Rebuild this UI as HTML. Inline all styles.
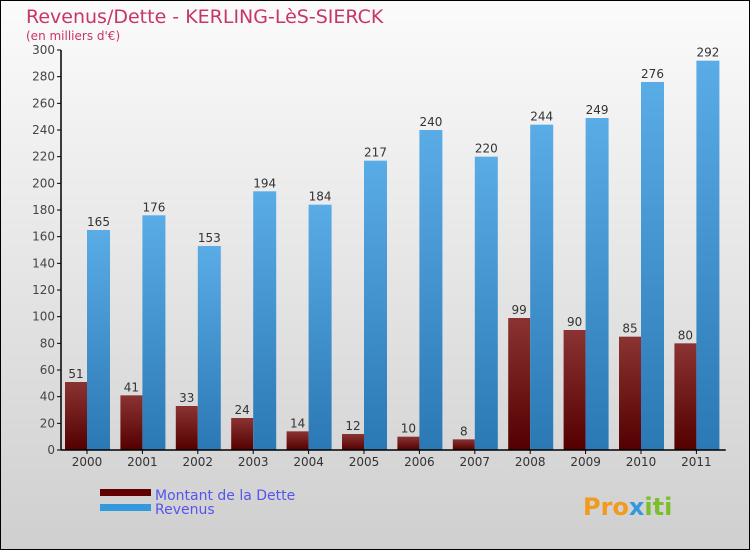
<!DOCTYPE html>
<html><head><meta charset="utf-8"><style>
body{margin:0;width:750px;height:550px;overflow:hidden;font-family:"DejaVu Sans","Liberation Sans",sans-serif}
</style></head><body>
<svg id="chart" width="750" height="550" xmlns="http://www.w3.org/2000/svg">
<defs>
<linearGradient id="bg" x1="0" y1="0" x2="0" y2="1"><stop offset="0" stop-color="#fbfbfb"/><stop offset="1" stop-color="#cfcfcf"/></linearGradient>
<linearGradient id="gd" x1="0" y1="0" x2="0" y2="1"><stop offset="0" stop-color="#8b3333"/><stop offset="1" stop-color="#540000"/></linearGradient>
<linearGradient id="gr" x1="0" y1="0" x2="0" y2="1"><stop offset="0" stop-color="#5aace6"/><stop offset="1" stop-color="#2a78b4"/></linearGradient>
</defs>
<rect x="0.5" y="0.5" width="749" height="549" fill="url(#bg)" stroke="#000"/>
<text x="26" y="23" font-size="19" fill="#c8356a">Revenus/Dette - KERLING-LèS-SIERCK</text>
<text x="26" y="40" font-size="12" fill="#c8356a">(en milliers d'€)</text>
<g id="plot"></g>
<rect x="100" y="489" width="51" height="7" fill="#600000"/>
<text x="155" y="500" font-size="14" fill="#5555ee">Montant de la Dette</text>
<rect x="100" y="504" width="51" height="7" fill="#3399dd"/>
<text x="155" y="514" font-size="14" fill="#5555ee">Revenus</text>
<text x="583" y="515" font-size="24" font-weight="bold" fill="#f39a1e">Pro<tspan fill="#3399dd">x</tspan><tspan fill="#7bbf2a">iti</tspan></text>
</svg>
<script>
const years=["2000","2001","2002","2003","2004","2005","2006","2007","2008","2009","2010","2011"];
const dette=[51,41,33,24,14,12,10,8,99,90,85,80];
const revenus=[165,176,153,194,184,217,240,220,244,249,276,292];
const yTicks=[0,20,40,60,80,100,120,140,160,180,200,220,240,260,280,300];
const NS="http://www.w3.org/2000/svg";
const g=document.getElementById('plot');
const x0=61,step=55.4,yBase=450,yTop=50,yMax=300;
const y=v=>yBase-(v/yMax)*(yBase-yTop);
const cx=i=>x0+26+i*step;
function mk(t,a){const e=document.createElementNS(NS,t);for(const k in a)e.setAttribute(k,a[k]);g.appendChild(e);return e;}
yTicks.forEach(v=>{
 const l=mk('line',{x1:57,x2:x0,y1:y(v),y2:y(v),stroke:'#000'});
 
 
 const t=mk('text',{x:55,y:y(v)+4,'text-anchor':'end','font-size':12,fill:'#444'});t.textContent=v;
 
 
});
years.forEach((yr,i)=>{
 const c=cx(i);
 const b1=mk('rect',{x:c-22,y:y(dette[i]),width:22,height:yBase-y(dette[i]),fill:'url(#gd)'});
 
 
 const b2=mk('rect',{x:c,y:y(revenus[i]),width:23,height:yBase-y(revenus[i]),fill:'url(#gr)'});
 
 
 const t1=mk('text',{x:c-11,y:y(dette[i])-4,'text-anchor':'middle','font-size':12,fill:'#333'});t1.textContent=dette[i];
 
 
 const t2=mk('text',{x:c+11.5,y:y(revenus[i])-4,'text-anchor':'middle','font-size':12,fill:'#333'});t2.textContent=revenus[i];
 
 
 const tk=mk('line',{x1:c,x2:c,y1:yBase,y2:yBase+4,stroke:'#000'});
 
 
 const xl=mk('text',{x:c,y:yBase+16,'text-anchor':'middle','font-size':12,fill:'#333'});xl.textContent=yr;
 
 
});
const ya=mk('line',{x1:x0,x2:x0,y1:yTop,y2:yBase,stroke:'#000','stroke-width':1.5});


const xa=mk('line',{x1:x0,x2:x0+12*step,y1:yBase,y2:yBase,stroke:'#000','stroke-width':1.5});


</script>
</body></html>
